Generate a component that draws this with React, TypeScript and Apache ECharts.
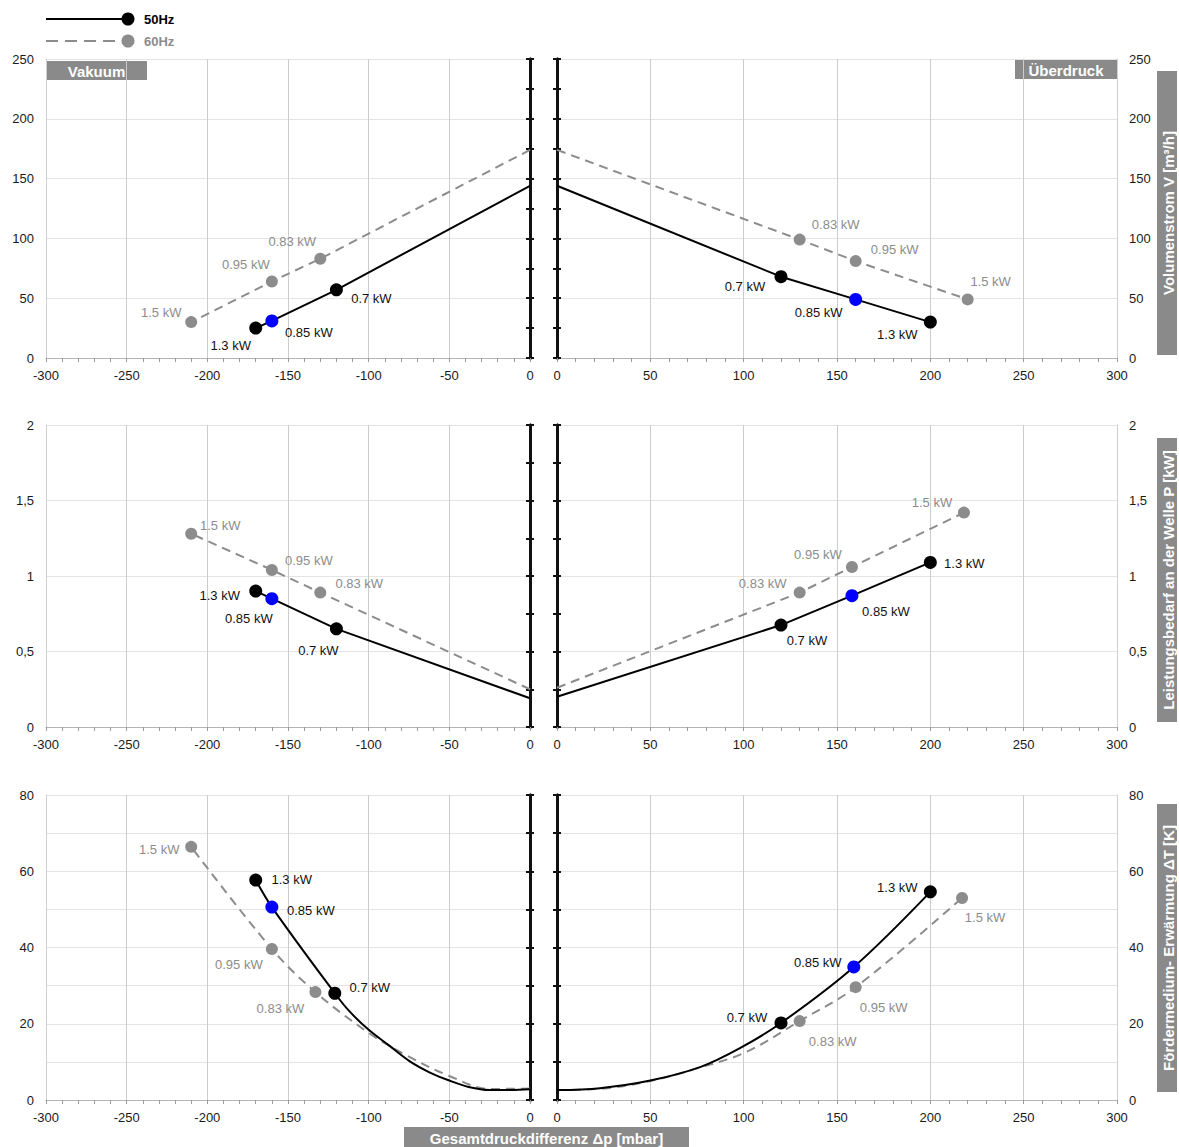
import React, { useEffect, useRef } from 'react';
import * as echarts from 'echarts';

const FONT = '"Liberation Sans", Arial, Helvetica, sans-serif';
const BLACK = '#000000';
const GREY = '#8c8c8c';
const BLUE = '#0000ff';
const BOX = '#8a8a8a';

// ---------- axis ranges: [min, max, interval, centre-axis tick interval]
const X_VAC = [-300, 0, 50];
const X_PRS = [0, 300, 50];
const Y_VOL = [0, 250, 50, 25];
const Y_POW = [0, 2, 0.5, 0.25];
const Y_TMP = [0, 80, 10, 10];
const Y_TMP_LABEL_STEP = 20;

// ---------- Volumenstrom V [m³/h]
const volVac50X = [0, -120, -160, -170];
const volVac50Y = [144, 57, 31, 25];
const volVac60X = [0, -130, -160, -210];
const volVac60Y = [174, 83, 64, 30];
const volPrs50X = [0, 120, 160, 200];
const volPrs50Y = [144, 68, 49, 30];
const volPrs60X = [0, 130, 160, 220];
const volPrs60Y = [174, 99, 81, 49];

// ---------- Leistungsbedarf P [kW]
const powVac50X = [0, -120, -160, -170];
const powVac50Y = [0.19, 0.65, 0.85, 0.9];
const powVac60X = [0, -130, -160, -210];
const powVac60Y = [0.25, 0.89, 1.04, 1.28];
const powPrs50X = [0, 120, 158, 200];
const powPrs50Y = [0.2, 0.675, 0.87, 1.09];
const powPrs60X = [0, 130, 158, 218];
const powPrs60Y = [0.26, 0.89, 1.06, 1.42];

// ---------- Erwärmung ΔT [K]
const tmpVac50X = [0, -12, -25, -38, -50, -62, -74, -87, -100, -112, -121, -160, -170];
const tmpVac50Y = [2.8, 2.6, 2.6, 3.4, 5.1, 7.2, 10, 14.2, 18.4, 23.3, 28, 50.6, 57.7];
const tmpVac60X = [0, -25, -50, -77, -100, -133, -160, -210];
const tmpVac60Y = [3, 2.9, 6.3, 11.8, 17.6, 28.3, 39.6, 66.4];
const tmpPrs50X = [0, 23, 50, 77, 98, 120, 159, 200];
const tmpPrs50Y = [2.6, 3.1, 5.1, 8.7, 13.6, 20.2, 34.9, 54.6];
const tmpPrs60X = [0, 25, 50, 75, 101, 130, 160, 217];
const tmpPrs60Y = [2.6, 3, 5, 8.3, 12.5, 20.7, 29.6, 53];

// ---------- motor power labels
const kw50 = ['', '0.7 kW', '0.85 kW', '1.3 kW'];
const kw60 = ['', '0.83 kW', '0.95 kW', '1.5 kW'];
const kwTmpVac50 = ['', '', '', '', '', '', '', '', '', '', '0.7 kW', '0.85 kW', '1.3 kW'];
const kwTmpVac60 = ['', '', '', '', '', '0.83 kW', '0.95 kW', '1.5 kW'];
const kwTmpPrs50 = ['', '', '', '', '', '0.7 kW', '0.85 kW', '1.3 kW'];
const kwTmpPrs60 = ['', '', '', '', '', '0.83 kW', '0.95 kW', '1.5 kW'];
const BLUE_LABEL = '0.85 kW';

// ---------- label offsets (style only)
const offVolVac50 = [[35, 9], [37, 12], [-25, 17]];
const offVolVac60 = [[-28, -17], [-26, -17], [-30, -10]];
const offVolPrs50 = [[-36, 10], [-37, 13], [-33, 12]];
const offVolPrs60 = [[36, -15], [39, -12], [23, -18]];
const offPowVac50 = [[-18, 22], [-23, 20], [-36, 4]];
const offPowVac60 = [[39, -9], [37, -9], [29, -8]];
const offPowPrs50 = [[26, 15], [34, 16], [34, 1]];
const offPowPrs60 = [[-37, -9], [-34, -12], [-32, -10]];
const offTmpVac50 = [[35, -6], [39, 3], [36, -1]];
const offTmpVac60 = [[-35, 16], [-33, 15], [-32, 3]];
const offTmpPrs50 = [[-34, -5], [-36, -4], [-33, -4]];
const offTmpPrs60 = [[33, 20], [28, 20], [23, 20]];

// ---------- layout
const ROW_TOP = [59, 425, 795];
const ROW_H = [299, 302, 305];
const LEFT_X = 46;
const LEFT_W = 484;
const RIGHT_X = 557;
const RIGHT_W = 560;

function xAxisCfg(grid: number, r: number[]) {
  return {
    type: 'value', gridIndex: grid, position: 'bottom', min: r[0], max: r[1], interval: r[2],
    axisLine: { show: true, onZero: false, lineStyle: { color: '#b4b4b4', width: 1 } },
    axisTick: { show: true, length: 4, lineStyle: { color: '#9a9a9a' } },
    minorTick: { show: true, splitNumber: 5, length: 4, lineStyle: { color: '#9a9a9a' } },
    axisLabel: { show: true, margin: 11, color: '#1a1a1a', fontSize: 13, fontFamily: FONT, showMinLabel: true, showMaxLabel: true, hideOverlap: false },
    splitLine: { show: true, lineStyle: { color: '#cccccc', width: 1 } },
  };
}

function yMain(grid: number, r: number[], pos: string, fmt: (v: number) => string) {
  return {
    type: 'value', gridIndex: grid, position: pos, min: r[0], max: r[1], interval: r[2],
    axisLine: { show: true, onZero: false, lineStyle: { color: '#cfcfcf' } },
    axisTick: { show: false },
    axisLabel: { show: true, margin: 12, color: '#1a1a1a', fontSize: 13, fontFamily: FONT, formatter: fmt, showMinLabel: true, showMaxLabel: true },
    splitLine: { show: true, lineStyle: { color: '#e4e4e4', width: 1 } },
  };
}

function yCentre(grid: number, r: number[], pos: string, inside: boolean) {
  return {
    type: 'value', gridIndex: grid, position: pos, min: r[0], max: r[1], interval: r[3],
    axisLine: { show: true, onZero: false, lineStyle: { color: '#111111', width: 3 } },
    axisTick: { show: true, inside, length: 4, lineStyle: { color: '#111111', width: 2 } },
    axisLabel: { show: false },
    splitLine: { show: false },
  };
}

function lineSeries(
  xIdx: number, yIdx: number, xs: number[], ys: number[], kw: string[], offs: number[][],
  is50: boolean, smooth: boolean | number,
) {
  const color = is50 ? BLACK : GREY;
  let k = 0;
  const data = xs.map((x, i) => {
    const txt = kw[i];
    if (!txt) return { value: [x, ys[i]], symbol: 'none', symbolSize: 0 };
    const off = offs[k++];
    return {
      value: [x, ys[i]],
      symbol: 'circle',
      symbolSize: is50 ? 13 : 12,
      itemStyle: { color: is50 && txt === BLUE_LABEL ? BLUE : color },
      label: {
        show: true, formatter: txt, position: 'inside', offset: off,
        color: is50 ? '#111111' : GREY, fontSize: 13, fontFamily: FONT,
      },
    };
  });
  return {
    type: 'line', name: is50 ? '50Hz' : '60Hz', xAxisIndex: xIdx, yAxisIndex: yIdx,
    data, smooth, showAllSymbol: true, symbol: 'circle', clip: false,
    z: is50 ? 4 : 3,
    lineStyle: { color, width: 2, type: is50 ? 'solid' : [9, 6] },
    itemStyle: { color },
    label: { show: false },
    emphasis: { disabled: true },
  };
}

const fmtInt = (v: number) => String(v);
const fmtComma = (v: number) => String(v).replace('.', ',');
const fmtTmp = (v: number) => (v % Y_TMP_LABEL_STEP === 0 ? String(v) : '');

function buildOption() {
  const grids: any[] = [];
  const xAxes: any[] = [];
  const yAxes: any[] = [];
  const yRanges = [Y_VOL, Y_POW, Y_TMP];
  const fmts = [fmtInt, fmtComma, fmtTmp];
  const mainY: number[][] = [];
  for (let r = 0; r < 3; r++) {
    grids.push({ left: LEFT_X, top: ROW_TOP[r], width: LEFT_W, height: ROW_H[r], containLabel: false, outerBoundsMode: 'none' });
    grids.push({ left: RIGHT_X, top: ROW_TOP[r], width: RIGHT_W, height: ROW_H[r], containLabel: false, outerBoundsMode: 'none' });
    xAxes.push(xAxisCfg(2 * r, X_VAC));
    xAxes.push(xAxisCfg(2 * r + 1, X_PRS));
    const yr = yRanges[r];
    const idxL = yAxes.length;
    yAxes.push(yMain(2 * r, yr, 'left', fmts[r]));
    yAxes.push(yCentre(2 * r, yr, 'right', false));
    yAxes.push(yCentre(2 * r, yr, 'right', true));
    const idxR = yAxes.length;
    yAxes.push(yMain(2 * r + 1, yr, 'right', fmts[r]));
    yAxes.push(yCentre(2 * r + 1, yr, 'left', false));
    yAxes.push(yCentre(2 * r + 1, yr, 'left', true));
    mainY.push([idxL, idxR]);
  }

  const series = [
    lineSeries(0, mainY[0][0], volVac60X, volVac60Y, kw60, offVolVac60, false, false),
    lineSeries(0, mainY[0][0], volVac50X, volVac50Y, kw50, offVolVac50, true, false),
    lineSeries(1, mainY[0][1], volPrs60X, volPrs60Y, kw60, offVolPrs60, false, false),
    lineSeries(1, mainY[0][1], volPrs50X, volPrs50Y, kw50, offVolPrs50, true, false),

    lineSeries(2, mainY[1][0], powVac60X, powVac60Y, kw60, offPowVac60, false, false),
    lineSeries(2, mainY[1][0], powVac50X, powVac50Y, kw50, offPowVac50, true, false),
    lineSeries(3, mainY[1][1], powPrs60X, powPrs60Y, kw60, offPowPrs60, false, false),
    lineSeries(3, mainY[1][1], powPrs50X, powPrs50Y, kw50, offPowPrs50, true, false),

    lineSeries(4, mainY[2][0], tmpVac60X, tmpVac60Y, kwTmpVac60, offTmpVac60, false, 0.35),
    lineSeries(4, mainY[2][0], tmpVac50X, tmpVac50Y, kwTmpVac50, offTmpVac50, true, 0.35),
    lineSeries(5, mainY[2][1], tmpPrs60X, tmpPrs60Y, kwTmpPrs60, offTmpPrs60, false, 0.35),
    lineSeries(5, mainY[2][1], tmpPrs50X, tmpPrs50Y, kwTmpPrs50, offTmpPrs50, true, 0.35),
  ];

  const boxText = (x: number, y: number, w: number, h: number, text: string) => ({
    type: 'group', z: 10,
    children: [
      { type: 'rect', shape: { x, y, width: w, height: h }, style: { fill: BOX } },
      {
        type: 'text', x: x + w / 2, y: y + h / 2 + 1,
        style: { text, fill: '#ffffff', font: `bold 15px ${FONT}`, textAlign: 'center', textVerticalAlign: 'middle', verticalAlign: 'middle' },
      },
    ],
  });
  const vBoxText = (x: number, y: number, w: number, h: number, text: string) => ({
    type: 'group', z: 10,
    children: [
      { type: 'rect', shape: { x, y, width: w, height: h }, style: { fill: BOX } },
      {
        type: 'text', x: x + w / 2 + 1, y: y + h / 2, rotation: Math.PI / 2,
        style: { text, fill: '#ffffff', font: `bold 15px ${FONT}`, textAlign: 'center', textVerticalAlign: 'middle', verticalAlign: 'middle' },
      },
    ],
  });

  const graphic = [
    // legend
    { type: 'line', shape: { x1: 46, y1: 19, x2: 128, y2: 19 }, style: { stroke: BLACK, lineWidth: 2 } },
    { type: 'circle', shape: { cx: 128, cy: 19, r: 6.5 }, style: { fill: BLACK } },
    { type: 'text', x: 144, y: 19, style: { text: '50Hz', fill: BLACK, font: `bold 13px ${FONT}`, textVerticalAlign: 'middle', verticalAlign: 'middle' } },
    { type: 'line', shape: { x1: 46, y1: 41, x2: 128, y2: 41 }, style: { stroke: GREY, lineWidth: 2, lineDash: [12, 7] } },
    { type: 'circle', shape: { cx: 128, cy: 41, r: 6.5 }, style: { fill: GREY } },
    { type: 'text', x: 144, y: 41, style: { text: '60Hz', fill: GREY, font: `bold 13px ${FONT}`, textVerticalAlign: 'middle', verticalAlign: 'middle' } },
    // boxes
    boxText(46, 61, 101, 19, 'Vakuum'),
    boxText(1015, 59, 102, 20, 'Überdruck'),
    boxText(404, 1127, 285, 20, 'Gesamtdruckdifferenz Δp [mbar]'),
    vBoxText(1157, 71, 20, 284, 'Volumenstrom V [m³/h]'),
    vBoxText(1157, 438, 20, 284, 'Leistungsbedarf an der Welle P [kW]'),
    vBoxText(1157, 804, 20, 288, 'Fördermedium- Erwärmung ΔT [K]'),
  ];

  return {
    animation: false,
    backgroundColor: '#ffffff',
    textStyle: { fontFamily: FONT },
    grid: grids,
    xAxis: xAxes,
    yAxis: yAxes,
    series,
    graphic,
    tooltip: { show: false },
  };
}

export default function App() {
  const ref = useRef<HTMLDivElement>(null);
  useEffect(() => {
    if (!ref.current) return;
    const chart = echarts.init(ref.current, undefined, { renderer: 'svg' });
    chart.setOption(buildOption() as any);
    return () => chart.dispose();
  }, []);
  return (
    <div
      ref={ref}
      style={{ position: 'absolute', left: 0, top: 0, width: 1179, height: 1147, background: '#fff' }}
    />
  );
}
